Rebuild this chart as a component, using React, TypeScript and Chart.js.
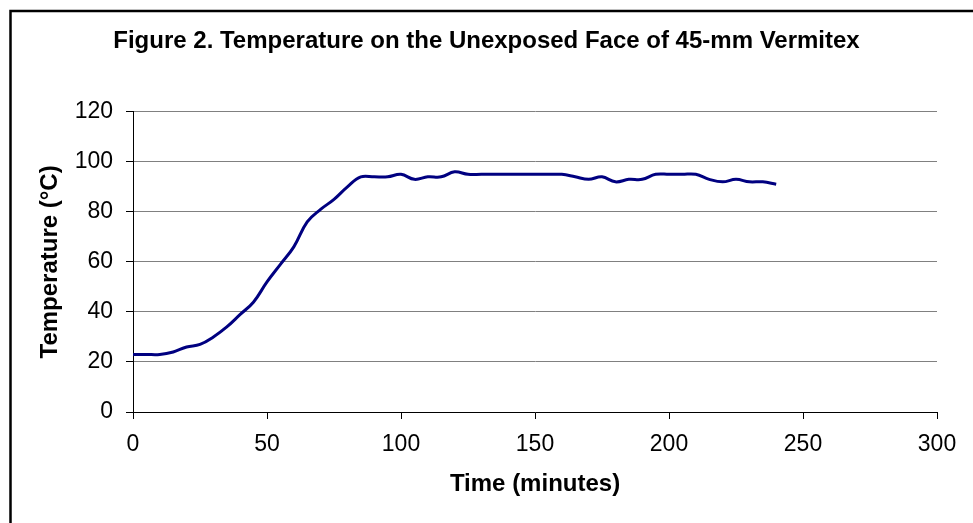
import React, { useEffect, useRef } from "react";
import { Chart, registerables } from "chart.js";

Chart.register(...registerables);

const times = [0, 5, 10, 15, 20, 25, 30, 35, 40, 45, 50, 55, 60, 65, 70, 75, 80, 85, 90, 95, 100, 105, 110, 115, 120, 125, 130, 135, 140, 145, 150, 155, 160, 165, 170, 175, 180, 185, 190, 195, 200, 205, 210, 215, 220, 225, 230, 235, 240];
const temps = [23, 23, 23, 24, 26, 27, 30, 34, 39, 44, 52, 59, 66, 76, 81, 85, 90, 94, 94, 94, 95, 93, 94, 94, 96, 95, 95, 95, 95, 95, 95, 95, 95, 94, 93, 94, 92, 93, 93, 95, 95, 95, 95, 93, 92, 93, 92, 92, 91];

const titleText = "Figure 2. Temperature on the Unexposed Face of 45-mm Vermitex";
const xTitle = "Time (minutes)";
const yTitle = "Temperature (°C)";
const FONT = "'Liberation Sans', Arial, sans-serif";

const frame = {
  id: "frame",
  beforeDraw(chart: any) {
    const ctx = chart.ctx;
    ctx.save();
    ctx.fillStyle = "#ffffff";
    ctx.fillRect(0, 0, chart.width, chart.height);
    ctx.strokeStyle = "#000000";
    ctx.lineWidth = 2.5;
    ctx.beginPath();
    ctx.moveTo(10.5, chart.height + 5);
    ctx.lineTo(10.5, 11);
    ctx.lineTo(chart.width + 5, 11);
    ctx.stroke();
    ctx.restore();
  },
};

export default function App() {
  const ref = useRef<HTMLCanvasElement>(null);
  useEffect(() => {
    if (!ref.current) return;
    const chart = new Chart(ref.current, {
      type: "line",
      data: {
        datasets: [
          {
            data: times.map((t, i) => ({ x: t, y: temps[i] })),
            borderColor: "#000080",
            borderWidth: 3,
            pointRadius: 0,
            tension: 0.4,
            fill: false,
          },
        ],
      },
      options: {
        responsive: false,
        animation: false,
        layout: { padding: 0 },
        plugins: {
          legend: { display: false },
          tooltip: { enabled: false },
          title: {
            display: true,
            text: titleText,
            color: "#000",
            font: { family: FONT, size: 24, weight: "bold" },
            padding: { top: 27, bottom: 56 },
          },
        },
        scales: {
          x: {
            type: "linear",
            min: 0,
            max: 300,
            ticks: { stepSize: 50, color: "#000", font: { family: FONT, size: 23 }, padding: 12, maxRotation: 0 },
            grid: { drawOnChartArea: false, drawTicks: true, tickLength: 7, tickColor: "#000" },
            border: { color: "#000", width: 1 },
            title: { display: true, text: xTitle, color: "#000", font: { family: FONT, size: 24, weight: "bold" }, padding: { top: 0, bottom: 24 } },
            afterFit: (s: any) => { s.height = 111; },
          },
          y: {
            min: 0,
            max: 120,
            ticks: { stepSize: 20, color: "#000", font: { family: FONT, size: 23 }, padding: 13 },
            grid: { color: "#808080", lineWidth: 1, tickLength: 7, tickColor: "#000" },
            border: { color: "#000", width: 1 },
            title: { display: true, text: yTitle, color: "#000", font: { family: FONT, size: 24, weight: "bold" }, padding: { top: 36, bottom: 0 } },
            afterFit: (s: any) => { s.width = 133; },
          },
          y2: {
            position: "right",
            display: true,
            ticks: { display: false },
            grid: { display: false },
            border: { display: false },
            afterFit: (s: any) => { s.width = 36; },
          },
        },
      },
      plugins: [frame],
    });
    return () => chart.destroy();
  }, []);
  return (
    <div style={{ position: "fixed", left: 0, top: 0, width: 973, height: 523 }}>
      <canvas ref={ref} width={973} height={523} style={{ width: 973, height: 523, display: "block" }} />
    </div>
  );
}
